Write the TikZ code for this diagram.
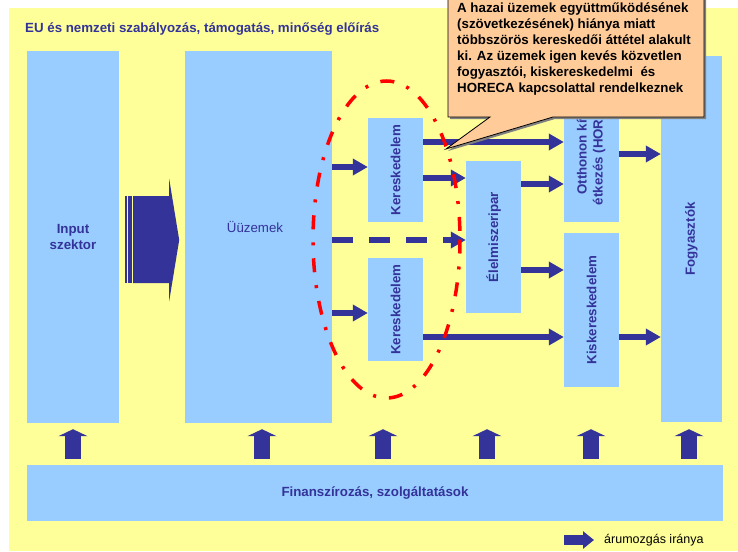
\documentclass[tikz,border=0pt]{standalone}
\usepackage{fontspec}
\setmainfont{Liberation Sans}
\usepackage{graphicx}
\usetikzlibrary{arrows.meta,positioning,calc}
\definecolor{bgyellow}{HTML}{FFFF99}
\definecolor{boxblue}{HTML}{99CCFF}
\definecolor{arrblue}{HTML}{333399}
\definecolor{notepeach}{HTML}{FFCC99}

\begin{document}
\begin{tikzpicture}[
    x=1pt, y=-1pt,
    every node/.style={font=\fontsize{13.3}{16}\selectfont},
    blk/.style={fill=boxblue,inner sep=0pt,text=arrblue,
                font=\fontsize{13.3}{16}\selectfont\bfseries},
    flow/.style={-{Triangle[length=15pt,width=16pt]},line width=6pt,arrblue},
    uparr/.style={-{Triangle[length=7pt,width=29pt]},line width=16pt,arrblue},
    legarr/.style={-{Triangle[length=11pt,width=17pt]},line width=10pt,arrblue},
    oval/.style={red,line width=3.5pt,dash pattern=on 14pt off 13pt on 3pt off 13pt},
    note/.style={fill=notepeach,draw=black,line width=0.8pt}
]

\useasboundingbox (0,0) rectangle (738,551);
\clip (0,0) rectangle (738,551);

% Background
\fill[bgyellow] (9,8) rectangle (738,551);
\node[anchor=base west,inner sep=0pt,text=arrblue,
      font=\fontsize{13.3}{16}\selectfont\bfseries] (title) at (25,32.3)
    {EU és nemzeti szabályozás, támogatás, minőség előírás};

% Columns
\node[blk,minimum width=92pt,minimum height=372pt,align=center] (inp) at (73,237) {Input\\szektor};
\node[blk,minimum width=147pt,minimum height=372pt,
      label={[text=arrblue,xshift=-3.5pt,yshift=10pt]center:Üüzemek}] (uzem) at (258.5,237) {};
\node[blk,minimum width=55pt,minimum height=104pt] (kerA) at (395.5,170) {\rotatebox{90}{Kereskedelem}};
\node[blk,minimum width=55pt,minimum height=103pt] (kerB) at (395.5,309.5) {\rotatebox{90}{Kereskedelem}};
\node[blk,minimum width=55pt,minimum height=152pt] (elel) at (493.5,237) {\rotatebox{90}{Élelmiszeripar}};
\node[blk,minimum width=55pt,minimum height=152pt] (otth) at (591.5,146)
    {\rotatebox{90}{\begin{tabular}{@{}c@{}}Otthonon kívüli\\étkezés (HORECA)\end{tabular}}};
\node[blk,minimum width=55pt,minimum height=154pt] (kisk) at (591.5,310) {\rotatebox{90}{Kiskereskedelem}};
\node[blk,minimum width=61pt,minimum height=366pt] (fogy) at (691.5,239) {\rotatebox{90}{Fogyasztók}};

% Services
\node[blk,minimum width=696pt,minimum height=56pt] (fin) at (375,493) {Finanszírozás, szolgáltatások};

% Big arrow input -> plants
\begin{scope}[shift={(inp.east)}]
  \fill[arrblue] (6,-41) rectangle (8,46);
  \fill[arrblue] (9,-41) rectangle (13,46);
  \fill[arrblue] (14,-41) -- (50,-41) -- (50,-58) -- (60,3) -- (50,64) -- (50,46) -- (14,46) -- cycle;
\end{scope}

% Flows of goods
\draw[flow] (uzem.east |- 0,167) -- (kerA.west |- 0,167);
\draw[flow] (kerA.east |- 0,142) -- (otth.west |- 0,142);
\draw[flow] (kerA.east |- 0,178) -- (elel.west |- 0,178);
\draw[flow,dash pattern=on 21pt off 16pt] (uzem.east |- 0,240) -- (elel.west |- 0,240);
\draw[flow] (uzem.east |- 0,313) -- (kerB.west |- 0,313);
\draw[flow] (kerB.east |- 0,337) -- (kisk.west |- 0,337);
\draw[flow] (elel.east |- 0,184) -- (otth.west |- 0,184);
\draw[flow] (elel.east |- 0,270) -- (kisk.west |- 0,270);
\draw[flow] (otth.east |- 0,154) -- (fogy.west |- 0,154);
\draw[flow] (kisk.east |- 0,337) -- (fogy.west |- 0,337);

% Support arrows
\foreach \x in {73,262,383,487,591,689}
  \draw[uparr] ([yshift=6pt]fin.north -| \x,0) -- ([yshift=-6pt]inp.south -| \x,0);

% Traders oval
\draw[oval] (386.5,239.5) ellipse [x radius=73.5, y radius=158.5];

% Note
\fill[black!50] (450,-10) -- (706,-10) -- (706,119) -- (555,119) -- (448,151) -- (492,119) -- (450,119) -- cycle;
\draw[note] (448,-12) -- (704,-12) -- (704,117) -- (553,117) -- (446,149) -- (490,117) -- (448,117) -- cycle;
\node[anchor=north west,inner sep=0pt,align=left,
      font=\fontsize{13.3}{16}\selectfont\bfseries] (notetxt) at (457,2.5)
    {A hazai üzemek együttműködésének\\(szövetkezésének) hiánya miatt\\többszörös kereskedői áttétel alakult\\ki. Az üzemek igen kevés közvetlen\\fogyasztói, kiskereskedelmi\ \ és\\HORECA kapcsolattal rendelkeznek};

% Legend
\node[anchor=west,inner sep=0pt,font=\fontsize{12.5}{15}\selectfont] (leg) at (604,540) {árumozgás iránya};
\draw[legarr] ([xshift=-40pt]leg.west) -- ([xshift=-10pt]leg.west);

\end{tikzpicture}
\end{document}
